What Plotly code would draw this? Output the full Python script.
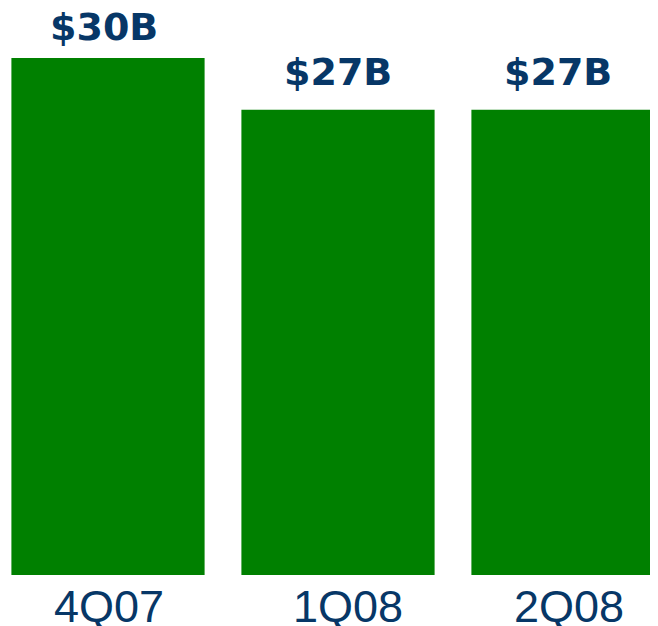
import plotly.graph_objects as go

categories = ["4Q07", "1Q08", "2Q08"]
values = [30, 27, 27]
value_labels = ["$30B", "$27B", "$27B"]

x_pos = list(range(len(categories)))
fig = go.Figure()
fig.add_trace(go.Bar(x=x_pos, y=values, width=0.84, marker=dict(color="#008000", line=dict(width=0)),
                     hoverinfo="skip"))

val_xshift = [-4, 0, -10]
cat_xshift = [1, 10, 1]
val_yshift = [7, 14, 14]
for i, (c, v, lab) in enumerate(zip(categories, values, value_labels)):
    fig.add_annotation(x=i, y=v, text=lab, showarrow=False, yanchor="bottom",
                       xshift=val_xshift[i], yshift=val_yshift[i],
                       font=dict(family="DejaVu Sans", size=38, color="#073767", weight="bold"))
    fig.add_annotation(x=i, y=0, text=c, showarrow=False, yanchor="middle",
                       xshift=cat_xshift[i], yshift=-31,
                       font=dict(family="Liberation Sans", size=45, color="#073767"))

fig.update_layout(
    width=650, height=618,
    margin=dict(l=0, r=0, t=0, b=51),
    plot_bgcolor="white", paper_bgcolor="white",
    showlegend=False,
    xaxis=dict(range=[-100/230, 550/230], showticklabels=False, showgrid=False, zeroline=False, showline=False, fixedrange=True),
    yaxis=dict(range=[0, 567 * 30 / 517], showticklabels=False, showgrid=False, zeroline=False, showline=False, fixedrange=True),
)
fig.write_html("out.html")
